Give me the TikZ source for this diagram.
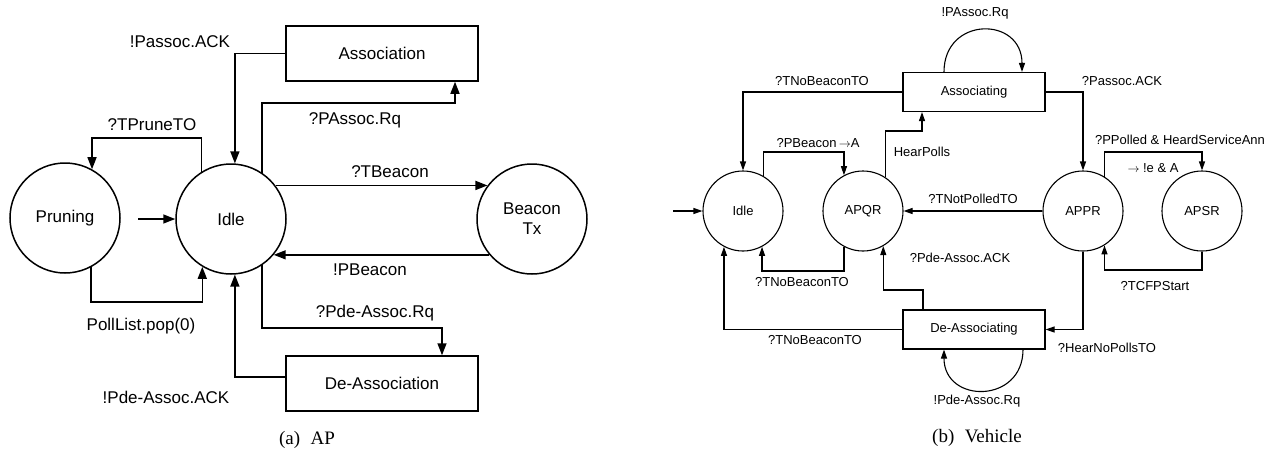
\documentclass[tikz,border=0pt]{standalone}
\usepackage{fontspec}
\setmainfont{Liberation Sans}
\newfontfamily\capfont{Liberation Serif}
\usetikzlibrary{arrows.meta}
\begin{document}
\begin{tikzpicture}[x=1pt,y=-1pt,line width=1.5pt,>={Triangle[length=12pt,width=9pt]},
	font=\fontsize{17}{20}\selectfont,
	state/.style={draw,circle,minimum size=110pt,inner sep=0pt},
	block/.style={draw,minimum width=192pt,minimum height=55pt},
	vstate/.style={draw,circle,minimum size=80pt,inner sep=0pt},
	vblock/.style={draw,minimum width=142pt,minimum height=39pt},
	small/.style={line width=1.1pt,>={Triangle[length=9pt,width=6pt]},font=\fontsize{13}{15}\selectfont},
	capt/.style={font=\capfont\fontsize{19}{22}\selectfont}]
	\useasboundingbox (0,0) rectangle (1278,453);
	% AP
	\node[state] (prune) at (65,218) {Pruning};
	\node[state] (idle) at (231,219) {Idle};
	\node[state,align=center] (beacon) at (532,219) {Beacon\\Tx};
	\node[block] (assoc) at (382,53.5) {Association};
	\node[block] (deassoc) at (382,383.5) {De-Association};
	\coordinate (start) at (138,219);
	\draw[->] (start) -- (idle.west);
	\draw[->] (idle.122) |- (prune.61 |- 0,138) -- (prune.61);
	\draw[->] (prune.-62) |- (idle.-121 |- 0,302) -- (idle.-121);
	\draw[->] (assoc.west) -| (idle.86);
	\draw[->] (idle.56) |- (455,103) -- (assoc.south -| 455,0);
	\draw[->] (idle.37) -- (beacon.143);
	\draw[->] (beacon.-140) -- (idle.-40);
	\draw[->] (idle.-56) |- (442,328) -- (deassoc.north -| 442,0);
	\draw[->] (deassoc.west |- 0,377) -| (idle.-86);
	\node (lpassocack) at (180,42) {!Passoc.ACK};
	\node (ltprune) at (152,125) {?TPruneTO};
	\node (lpassocrq) at (355,120) {?PAssoc.Rq};
	\node (ltbeacon) at (390,172) {?TBeacon};
	\node (lpbeacon) at (370,270) {!PBeacon};
	\node (lpoll) at (141,326) {PollList.pop(0)};
	\node (lpderq) at (375,313) {?Pde-Assoc.Rq};
	\node (lpdeack) at (166,397) {!Pde-Assoc.ACK};
	\node[capt] (capa) at (307,440) {(a)\hspace{0.55em}AP};
	% Vehicle
	\begin{scope}[small]
		\node[vstate] (vidle) at (743,211) {Idle};
		\node[vstate] (apqr) at (863,211) {APQR};
		\node[vstate] (appr) at (1083,211) {APPR};
		\node[vstate] (apsr) at (1202,211) {APSR};
		\node[vblock] (assocg) at (974,92) {Associating};
		\node[vblock] (deassocg) at (974,329.5) {De-Associating};
		\coordinate (vstart) at (673,211);
		\draw[->] (vstart) -- (vidle.west);
		\draw[->] (assocg.north -| 944,0) .. controls (944,16) and (1022,16) .. (assocg.north -| 1022,0);
		\draw[->] (deassocg.south -| 1023,0) .. controls (1023,404) and (944,404) .. (deassocg.south -| 944,0);
		\draw[->] (assocg.west) -| (vidle.north);
		\draw[->] (vidle.60) |- (apqr.118 |- 0,152) -- (apqr.118);
		\draw[->] (apqr.57) |- (922,131) -- (assocg.south -| 922,0);
		\draw[->] (assocg.east) -| (appr.north);
		\draw[->] (appr.58) |- (apsr.north |- 0,152) -- (apsr.north);
		\draw[->] (appr.west) -- (apqr.east);
		\draw[->] (apsr.south) |- (appr.-58 |- 0,270) -- (appr.-58);
		\draw[->] (apqr.-118) |- (vidle.-62 |- 0,271) -- (vidle.-62);
		\draw[->] (deassocg.west) -| (vidle.-118);
		\draw[->] (deassocg.north -| 923,0) |- (apqr.-60 |- 0,290) -- (apqr.-60);
		\draw[->] (appr.south) |- (deassocg.east);
		\node (lpassocrqv) at (975,13) {!PAssoc.Rq};
		\node (ltnobeacon) at (822,81) {?TNoBeaconTO};
		\node (lpassocackv) at (1122,81) {?Passoc.ACK};
		\node (lpbeaconv) at (818,143) {?PBeacon\,$\rightarrow$A};
		\node (lhearpolls) at (922,152) {HearPolls};
		\node (lppolled) at (1180,140) {?PPolled \& HeardServiceAnn};
		\node (lie) at (1153,168) {$\rightarrow$ !e \& A};
		\node (ltnotpolled) at (973,199) {?TNotPolledTO};
		\node (lpdeackv) at (960,258) {?Pde-Assoc.ACK};
		\node (ltnobeaconloop) at (802,282) {?TNoBeaconTO};
		\node (ltcfp) at (1155,286) {?TCFPStart};
		\node (ltnobeaconbot) at (815,340) {?TNoBeaconTO};
		\node (lhearnopolls) at (1107,348) {?HearNoPollsTO};
		\node (lpderqv) at (977,401) {!Pde-Assoc.Rq};
	\end{scope}
	\node[capt] (capb) at (977,438) {(b)\hspace{0.55em}Vehicle};
\end{tikzpicture}
\end{document}
